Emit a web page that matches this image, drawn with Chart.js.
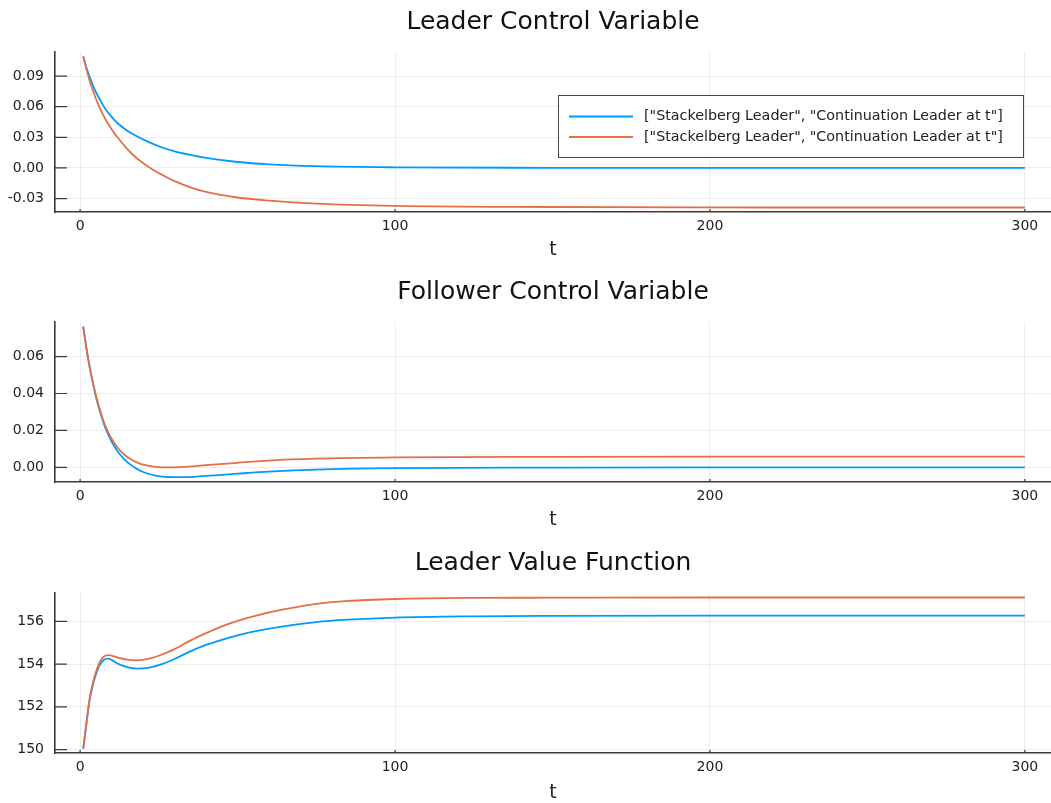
<!DOCTYPE html>
<html>
<head>
<meta charset="utf-8">
<title>Stackelberg plans</title>
<script src="https://cdn.jsdelivr.net/npm/chart.js"></script>
<style>
  html, body { margin: 0; padding: 0; background: #fff; overflow: hidden; }
  canvas { position: absolute; left: 0; }
</style>
</head>
<body>
<canvas id="leaderControl" width="1051" height="268" style="top:0px"></canvas>
<canvas id="followerControl" width="1051" height="268" style="top:270px"></canvas>
<canvas id="leaderValue" width="1051" height="268" style="top:541px"></canvas>

<script>
// series labels (both lines carry the same label)
const seriesLabel = '["Stackelberg Leader", "Continuation Leader at t"]';
const xTicks = [0, 100, 200, 300];

// Leader control variable
const tLeader = [1, 2, 3, 4, 5, 6, 7, 8, 10, 12, 15, 18, 22, 26, 30, 35, 40, 50, 60, 75, 100, 150, 200, 250, 300];
const leaderStackelberg = [0.1092, 0.0985, 0.0895, 0.0815, 0.0745, 0.0685, 0.063, 0.058, 0.050, 0.0435, 0.0365, 0.031, 0.025, 0.020, 0.0163, 0.0128, 0.0098, 0.0058, 0.0035, 0.0017, 0.0006, 0.0001, 0.0, 0.0, 0.0];
const leaderContinuation = [0.1092, 0.097, 0.086, 0.0765, 0.068, 0.0605, 0.054, 0.048, 0.038, 0.0295, 0.0185, 0.0095, 0.0005, -0.0067, -0.013, -0.019, -0.0235, -0.029, -0.032, -0.035, -0.0372, -0.0383, -0.0387, -0.0388, -0.0388];
const leaderTicks = [-0.03, 0.0, 0.03, 0.06, 0.09];

// Follower control variable
const tFollower = [1, 2, 3, 4, 5, 6, 7, 8, 9, 10, 12, 14, 16, 18, 20, 24, 28, 32, 40, 50, 60, 75, 100, 150, 200, 250, 300];
const followerStackelberg = [0.0762, 0.0645, 0.0545, 0.046, 0.0385, 0.032, 0.0265, 0.0215, 0.0175, 0.014, 0.0085, 0.0045, 0.0015, -0.0008, -0.0025, -0.0044, -0.0052, -0.0053, -0.0046, -0.0034, -0.0023, -0.0012, -0.0004, -0.0001, 0.0, 0.0, 0.0];
const followerContinuation = [0.0762, 0.0646, 0.0548, 0.0465, 0.0392, 0.0328, 0.0274, 0.0225, 0.0188, 0.0155, 0.0105, 0.007, 0.0045, 0.0027, 0.0015, 0.0003, 0.0, 0.0002, 0.0012, 0.0025, 0.0037, 0.0047, 0.0054, 0.0057, 0.0058, 0.0058, 0.0058];
const followerTicks = [0.0, 0.02, 0.04, 0.06];

// Leader value function
const tValue = [1, 2, 3, 4, 5, 6, 7, 8, 9, 10, 12, 15, 18, 22, 26, 30, 35, 40, 45, 50, 55, 65, 75, 85, 100, 125, 150, 200, 250, 300];
const valueStackelberg = [150.05, 151.2, 152.3, 153.0, 153.5, 153.9, 154.12, 154.24, 154.26, 154.2, 154.02, 153.86, 153.79, 153.84, 154.0, 154.24, 154.6, 154.9, 155.14, 155.35, 155.52, 155.78, 155.97, 156.08, 156.18, 156.24, 156.26, 156.27, 156.27, 156.27];
const valueContinuation = [150.05, 151.22, 152.35, 153.08, 153.62, 154.02, 154.27, 154.39, 154.42, 154.4, 154.3, 154.21, 154.18, 154.26, 154.45, 154.7, 155.1, 155.45, 155.77, 156.03, 156.24, 156.57, 156.82, 156.96, 157.05, 157.1, 157.11, 157.12, 157.12, 157.12];
const valueTicks = [150, 152, 154, 156];

const FONT = 'DejaVu Sans';
const BLUE = '#009afa';
const RED = '#e36f47';
const AXIS = '#3a3a3a';

// short tick marks drawn inward from the axis lines
const innerTicks = {
  id: 'innerTicks',
  beforeDatasetsDraw(chart) {
    const { ctx, chartArea: a, scales: { x, y } } = chart;
    ctx.save();
    ctx.strokeStyle = AXIS;
    ctx.lineWidth = 1.2;
    ctx.beginPath();
    y.ticks.forEach(t => {
      const py = y.getPixelForValue(t.value);
      ctx.moveTo(a.left, py);
      ctx.lineTo(a.left + 12, py);
    });
    x.ticks.forEach(t => {
      const px = x.getPixelForValue(t.value);
      ctx.moveTo(px, a.bottom);
      ctx.lineTo(px, a.bottom - 3);
    });
    ctx.stroke();
    ctx.restore();
  }
};

// boxed legend in the upper right of the first panel
const boxLegend = {
  id: 'boxLegend',
  afterDraw(chart, args, opts) {
    if (!opts.show) return;
    const ctx = chart.ctx;
    ctx.save();
    ctx.fillStyle = '#fff';
    ctx.fillRect(558.5, 95.5, 465, 62);
    ctx.strokeStyle = '#444';
    ctx.lineWidth = 1;
    ctx.strokeRect(558.5, 95.5, 465, 62);
    ctx.font = '14.3px ' + FONT;
    ctx.textBaseline = 'middle';
    chart.data.datasets.forEach((ds, i) => {
      const yy = 116.5 + i * 20.5;
      ctx.strokeStyle = ds.borderColor;
      ctx.lineWidth = 2;
      ctx.beginPath();
      ctx.moveTo(569, yy);
      ctx.lineTo(633, yy);
      ctx.stroke();
      ctx.fillStyle = '#222';
      ctx.fillText(ds.label, 644, yy);
    });
    ctx.restore();
  }
};

function series(ts, vals, color, order) {
  return {
    label: seriesLabel,
    data: ts.map((t, i) => ({ x: t, y: vals[i] })),
    borderColor: color,
    backgroundColor: color,
    borderWidth: 1.8,
    pointRadius: 0,
    cubicInterpolationMode: 'monotone',
    order: order
  };
}

function makeChart(id, title, ts, blue, red, yMin, yMax, yTicks, digits, legend, tBottom) {
  new Chart(document.getElementById(id), {
    type: 'line',
    data: { datasets: [series(ts, blue, BLUE, 1), series(ts, red, RED, 0)] },
    options: {
      responsive: false,
      animation: false,
      layout: { padding: { left: 0, right: 0, top: 0, bottom: 0 } },
      plugins: {
        legend: { display: false },
        tooltip: { enabled: false },
        title: {
          display: true, text: title, fullSize: false, color: '#111',
          font: { family: FONT, size: 25, weight: 'normal' },
          padding: { top: 7, bottom: 15 }
        },
        boxLegend: { show: legend }
      },
      scales: {
        x: {
          type: 'linear', min: -7.97, max: 308.3,
          afterBuildTicks: s => { s.ticks = xTicks.map(v => ({ value: v })); },
          afterFit: s => { s.height = 56; },
          grid: { color: 'rgba(0,0,0,0.07)', drawTicks: false },
          border: { color: AXIS, width: 1.6 },
          ticks: { padding: 6, color: '#222', maxRotation: 0, font: { family: FONT, size: 14 }, callback: v => String(v) },
          title: { display: true, text: 't', color: '#222', font: { family: FONT, size: 19 }, padding: { top: 0, bottom: tBottom } }
        },
        y: {
          min: yMin, max: yMax,
          afterBuildTicks: s => { s.ticks = yTicks.map(v => ({ value: v })); },
          afterFit: s => { s.width = 55; },
          grid: { color: 'rgba(0,0,0,0.07)', drawTicks: false },
          border: { color: AXIS, width: 1.6 },
          ticks: { padding: 11, color: '#222', font: { family: FONT, size: 14 }, callback: v => v.toFixed(digits) }
        }
      }
    },
    plugins: [innerTicks, boxLegend]
  });
}

makeChart('leaderControl', 'Leader Control Variable', tLeader, leaderStackelberg, leaderContinuation,
  -0.0432, 0.1136, leaderTicks, 2, true, 7);
makeChart('followerControl', 'Follower Control Variable', tFollower, followerStackelberg, followerContinuation,
  -0.0079, 0.0787, followerTicks, 2, false, 7);
makeChart('leaderValue', 'Leader Value Function', tValue, valueStackelberg, valueContinuation,
  149.84, 157.33, valueTicks, 0, false, 5);
</script>
</body>
</html>
